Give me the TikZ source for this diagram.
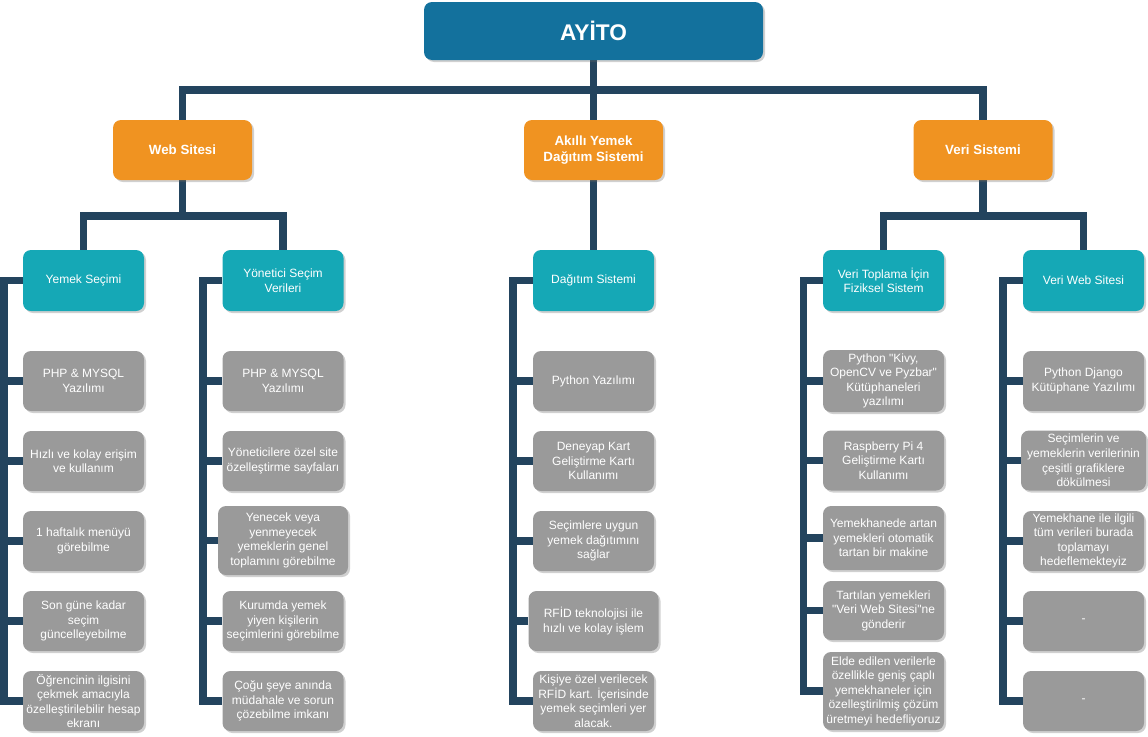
\documentclass[tikz,border=0pt]{standalone}
\usepackage{fontspec}
\setmainfont{Liberation Sans}[Ligatures=TeXOff]
\usetikzlibrary{shadows,backgrounds}
\definecolor{rootc}{RGB}{19,113,157}
\definecolor{orangec}{RGB}{240,147,33}
\definecolor{tealc}{RGB}{21,168,182}
\definecolor{grayc}{RGB}{154,154,154}
\definecolor{linec}{RGB}{35,68,94}
\tikzset{
  base/.style={rounded corners=6pt, text=white, align=center, inner sep=1pt,
    font=\fontsize{9}{10.9}\selectfont,
    drop shadow={shadow xshift=1.5pt, shadow yshift=-1.5pt, opacity=0.3, fill=black!60}},
  rootbox/.style={base, fill=rootc, minimum width=339*0.75pt, minimum height=58*0.75pt,
    font=\fontsize{17}{20}\selectfont\bfseries},
  catbox/.style={base, fill=orangec, minimum width=139*0.75pt, minimum height=60*0.75pt,
    font=\fontsize{10}{12.5}\selectfont\bfseries},
  subbox/.style={base, fill=tealc, minimum width=121*0.75pt, minimum height=61*0.75pt},
  itembox/.style={base, fill=grayc, minimum width=121*0.75pt, minimum height=60*0.75pt},
  wire/.style={draw=linec, line width=5.6pt, line join=miter},
}
\begin{document}
\begin{tikzpicture}[x=0.75pt,y=-0.75pt]
\useasboundingbox (0,0) rectangle (1148,736);

% root and categories
\node[rootbox] (root) at (593.5,31) {AYİTO};
\node[catbox] (web) at (182.5,150) {Web Sitesi};
\node[catbox] (akilli) at (593.5,150) {Akıllı Yemek\\Dağıtım Sistemi};
\node[catbox] (veri) at (983,150) {Veri Sistemi};

% sub categories
\node[subbox] (yemek) at (83.5,280.5) {Yemek Seçimi};
\node[subbox] (yonetici) at (283,280.5) {Yönetici Seçim\\Verileri};
\node[subbox] (dagitim) at (593.5,280.5) {Dağıtım Sistemi};
\node[subbox] (toplama) at (883.5,280.5) {Veri Toplama İçin\\Fiziksel Sistem};
\node[subbox] (veriweb) at (1083.5,280.5) {Veri Web Sitesi};

% column A
\node[itembox] (a1) at (83.5,381) {PHP \& MYSQL\\Yazılımı};
\node[itembox] (a2) at (83.5,461) {Hızlı ve kolay erişim\\ve kullanım};
\node[itembox] (a3) at (83.5,541) {1 haftalık menüyü\\görebilme};
\node[itembox] (a4) at (83.5,621) {Son güne kadar\\seçim\\güncelleyebilme};
\node[itembox] (a5) at (83.5,701) {Öğrencinin ilgisini\\çekmek amacıyla\\özelleştirilebilir hesap\\ekranı};

% column B
\node[itembox] (b1) at (283,381) {PHP \& MYSQL\\Yazılımı};
\node[itembox] (b2) at (283,461) {Yöneticilere özel site\\özelleştirme sayfaları};
\node[itembox, minimum width=130*0.75pt, minimum height=69*0.75pt] (b3) at (283,540.5) {Yenecek veya\\yenmeyecek\\yemeklerin genel\\toplamını görebilme};
\node[itembox] (b4) at (283,621) {Kurumda yemek\\yiyen kişilerin\\seçimlerini görebilme};
\node[itembox] (b5) at (283,701) {Çoğu şeye anında\\müdahale ve sorun\\çözebilme imkanı};

% column C
\node[itembox] (c1) at (593.5,381) {Python Yazılımı};
\node[itembox] (c2) at (593.5,461) {Deneyap Kart\\Geliştirme Kartı\\Kullanımı};
\node[itembox] (c3) at (593.5,541) {Seçimlere uygun\\yemek dağıtımını\\sağlar};
\node[itembox, minimum width=130*0.75pt] (c4) at (593.5,621) {RFİD teknolojisi ile\\hızlı ve kolay işlem};
\node[itembox] (c5) at (593.5,701) {Kişiye özel verilecek\\RFİD kart. İçerisinde\\yemek seçimleri yer\\alacak.};

% column D
\node[itembox, minimum height=62*0.75pt] (d1) at (883.5,381) {Python "Kivy,\\OpenCV ve Pyzbar"\\Kütüphaneleri\\yazılımı};
\node[itembox] (d2) at (883.5,460.5) {Raspberry Pi 4\\Geliştirme Kartı\\Kullanımı};
\node[itembox, minimum height=64*0.75pt] (d3) at (883.5,538) {Yemekhanede artan\\yemekleri otomatik\\tartan bir makine};
\node[itembox, minimum height=59*0.75pt] (d4) at (883.5,610.5) {Tartılan yemekleri\\"Veri Web Sitesi"ne\\gönderir};
\node[itembox, minimum height=78*0.75pt] (d5) at (883.5,691) {Elde edilen verilerle\\özellikle geniş çaplı\\yemekhaneler için\\özelleştirilmiş çözüm\\üretmeyi hedefliyoruz};

% column E
\node[itembox] (e1) at (1083.5,381) {Python Django\\Kütüphane Yazılımı};
\node[itembox, minimum width=125*0.75pt] (e2) at (1083.5,460.5) {Seçimlerin ve\\yemeklerin verilerinin\\çeşitli grafiklere\\dökülmesi};
\node[itembox] (e3) at (1083.5,541) {Yemekhane ile ilgili\\tüm verileri burada\\toplamayı\\hedeflemekteyiz};
\node[itembox] (e4) at (1083.5,621) {-};
\node[itembox] (e5) at (1083.5,701) {-};

% bus coordinates
\coordinate (bus1) at (593.5,90);
\coordinate (busL) at (182.5,216);
\coordinate (busR) at (983,216);
\coordinate (colA) at (4,0);
\coordinate (colB) at (203,0);
\coordinate (colC) at (513,0);
\coordinate (colD) at (803.5,0);
\coordinate (colE) at (1003,0);

\begin{scope}[on background layer]
\fill[white] (0,0) rectangle (1148,736);
\draw[wire] (root.south) -- (bus1);
\draw[wire] (web.north) |- (bus1) -| (veri.north);
\draw[wire] (bus1) -- (akilli.north);

\draw[wire] (web.south) -- (busL);
\draw[wire] (yemek.north) |- (busL) -| (yonetici.north);
\draw[wire] (akilli.south) -- (dagitim.north);
\draw[wire] (veri.south) -- (busR);
\draw[wire] (toplama.north) |- (busR) -| (veriweb.north);

\draw[wire] (yemek.west) -| (a5.west -| colA) -- (a5.west);
\foreach \n in {a1,a2,a3,a4} \draw[wire] (\n.west) -- (\n.west -| colA);
\draw[wire] (yonetici.west) -| (b5.west -| colB) -- (b5.west);
\foreach \n in {b1,b2,b3,b4} \draw[wire] (\n.west) -- (\n.west -| colB);
\draw[wire] (dagitim.west) -| (c5.west -| colC) -- (c5.west);
\foreach \n in {c1,c2,c3,c4} \draw[wire] (\n.west) -- (\n.west -| colC);
\draw[wire] (toplama.west) -| (d5.west -| colD) -- (d5.west);
\foreach \n in {d1,d2,d3,d4} \draw[wire] (\n.west) -- (\n.west -| colD);
\draw[wire] (veriweb.west) -| (e5.west -| colE) -- (e5.west);
\foreach \n in {e1,e2,e3,e4} \draw[wire] (\n.west) -- (\n.west -| colE);
\end{scope}
\end{tikzpicture}
\end{document}
